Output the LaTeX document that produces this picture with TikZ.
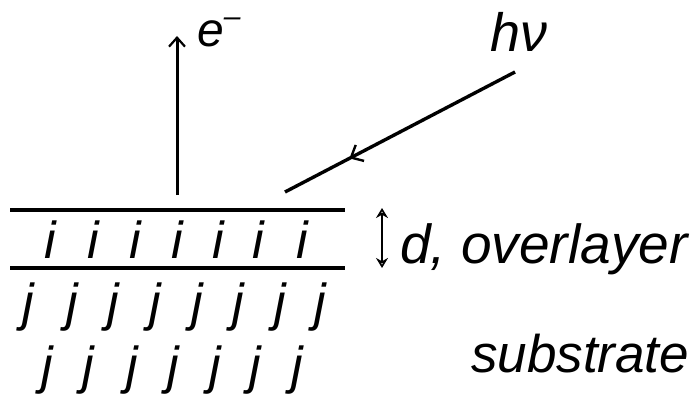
\documentclass[tikz,border=0pt]{standalone}
\usepackage{fontspec}
\setmainfont{Liberation Sans}
\usetikzlibrary{arrows.meta,decorations.markings}

\begin{document}
\begin{tikzpicture}[x=1pt, y=1pt,
    atom/.style={anchor=base, inner sep=0pt, font=\fontsize{52}{60}\selectfont\itshape},
    lbl/.style={anchor=base west, inner sep=0pt, font=\fontsize{55}{64}\selectfont\itshape},
    layer/.style={line width=3.4pt},
    ray/.style={line width=3.4pt}]
    \useasboundingbox (0,0) rectangle (692,394);
    % overlayer boundaries
    \coordinate (tl) at (10,184);
    \coordinate (tr) at (345,184);
    \coordinate (bl) at (10,126);
    \coordinate (br) at (345,126);
    \draw[layer] (tl) -- (tr);
    \draw[layer] (bl) -- (br);
    % atoms
    \foreach \x in {50,93,135,177,218,258,302}
      \node[atom] at (\x,136) {i};
    \foreach \x in {28,72,113,155,197,238,280,320}
      \node[atom] at (\x,74) {j};
    \foreach \x in {47,88,132,173,215,255,297}
      \node[atom] at (\x,11) {j};
    % emitted electron
    \coordinate (eb) at (177,199);
    \coordinate (et) at (177,358);
    \draw[line width=3pt, -{Straight Barb[length=9pt, width=16pt, line width=2.2pt]}] (eb) -- (et);
    \node[lbl, font=\fontsize{48}{56}\selectfont\itshape] (elec) at (197,347) {e\raisebox{0.42em}{\fontsize{30}{30}\selectfont\char"2013}};
    % incoming photon
    \coordinate (ps) at (515,322);
    \coordinate (pe) at (285,202);
    \draw[ray, postaction={decorate}, decoration={markings,
        mark=at position 0.72 with {\arrow[line width=2.4pt]{Straight Barb[length=10pt, width=18pt]}}}] (ps) -- (pe);
    \node[lbl, font=\fontsize{54}{62}\selectfont\itshape] (phot) at (490,342) {h\char"03BD};
    % thickness
    \coordinate (dt) at (382,186);
    \coordinate (db) at (382,126);
    \draw[line width=2.2pt, {Stealth[open, length=10pt, width=12pt]}-{Stealth[open, length=10pt, width=12pt]}] (dt) -- (db);
    \node[lbl] (over) at (400,131) {d, overlayer};
    \node[lbl, font=\fontsize{53}{62}\selectfont\itshape] (sub) at (471,22) {substrate};
\end{tikzpicture}
\end{document}
